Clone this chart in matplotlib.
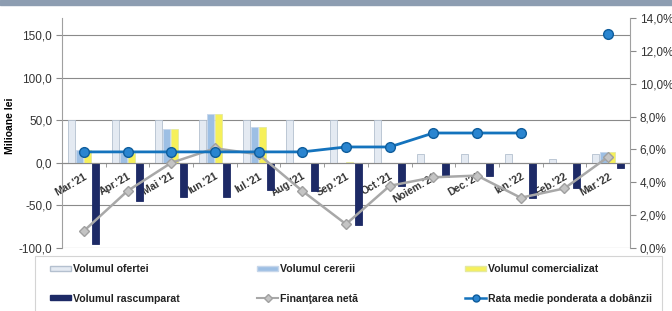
import numpy as np
import matplotlib
matplotlib.use("Agg")
import matplotlib.pyplot as plt
from matplotlib.patches import Rectangle
from matplotlib.lines import Line2D
from matplotlib.ticker import FuncFormatter

plt.rcParams['font.family'] = ['Liberation Sans', 'DejaVu Sans']

# data
months = ["Mar.'21", "Apr.'21", "Mai '21", "Iun.'21", "Iul.'21", "Aug.'21", "Sep.'21",
          "Oct.'21", "Noiem.'21", "Dec.'21", "Ian.'22", "Feb.'22", "Mar.'22"]
oferta = [50, 50, 50, 50, 50, 50, 50, 50, 10, 10, 10, 5, 10]
cerere = [15, 12, 40, 57, 42, 0, 0, 0, 0, 0, 0, 0, 13]
comercializat = [15, 12, 40, 57, 42, 0, 1, 0, 0, 0, 0, 0, 13]
rascumparat = [-95, -45, -40, -40, -32, -33, -73, -27, -17, -15, -41, -30, -6]
finantare = [-80, -33, 0, 17, 10, -33, -72, -27, -17, -15, -41, -30, 7]
rata = [5.85, 5.85, 5.85, 5.85, 5.85, 5.85, 6.15, 6.15, 7.0, 7.0, 7.0, np.nan, 13.0]

W, H = 672, 311
fig = plt.figure(figsize=(W / 100, H / 100), dpi=100)
fig.patches.append(Rectangle((0, 1 - 5 / H), 1, 5 / H, transform=fig.transFigure,
                             color='#8d9db1', zorder=0))

ax = fig.add_axes([62 / W, 1 - 248 / H, 568 / W, 230 / H])
x = np.arange(len(months))
w = 0.16
ax.bar(x - 0.285, oferta, w, color='#e4eaf2', edgecolor='#b4c0cf', linewidth=0.6, zorder=2)
ax.bar(x - 0.10, cerere, w, color='#9dbfe4', edgecolor='#c6d6ea', linewidth=0.6, zorder=2)
ax.bar(x + 0.08, comercializat, w, color='#f6f05a', edgecolor='#e4e9a0', linewidth=0.6, zorder=2)
ax.bar(x + 0.275, rascumparat, w, color='#1d2a66', edgecolor='#1d2a66', linewidth=0.6, zorder=2)
ax.plot(x, finantare, color='#a8a8a8', lw=1.8, marker='D', ms=5,
        mfc='#c4c4c4', mec='#a0a0a0', zorder=3)

ax.set_xlim(-0.5, len(months) - 0.5)
ax.set_ylim(-100, 170)
ax.set_yticks([-100, -50, 0, 50, 100, 150])
ax.yaxis.set_major_formatter(FuncFormatter(lambda v, p: f"{v:.1f}".replace('.', ',')))
ax.grid(axis='y', color='#8a8a8a', lw=0.8, zorder=0)
ax.set_axisbelow(True)
ax.tick_params(axis='y', length=4, color='#8a8a8a', labelsize=8.5, labelcolor='#333333', pad=3)
ax.set_ylabel('Milioane lei', fontsize=7.5, fontweight='bold')
ax.yaxis.set_label_coords(-0.083, 0.53)

for s in ['top', 'right']:
    ax.spines[s].set_visible(False)
ax.spines['left'].set_color('#a0a0a0')
ax.spines['bottom'].set_position(('data', 0))
ax.spines['bottom'].set_color('#8a8a8a')
ax.set_xticks(x)
ax.set_xticklabels(months, rotation=30, ha='right', rotation_mode='anchor',
                   fontsize=7.5, fontweight='bold', color='#333333')
ax.set_xticks(np.arange(len(months) + 1) - 0.5, minor=True)
ax.tick_params(axis='x', which='major', length=0, pad=6)
ax.tick_params(axis='x', which='minor', length=3, color='#8a8a8a')

ax2 = ax.twinx()
ax2.plot(x, rata, color='#1473bd', lw=2, marker='o', ms=7,
         mfc='#2a85d0', mec='#0f5d9c', zorder=4)
ax2.set_ylim(0, 14)
ax2.set_yticks(np.arange(0, 15, 2))
ax2.yaxis.set_major_formatter(FuncFormatter(lambda v, p: f"{v:.1f}%".replace('.', ',')))
ax2.tick_params(axis='y', length=4, color='#8a8a8a', labelsize=8.5, labelcolor='#333333', pad=3)
for s in ['top', 'left', 'bottom']:
    ax2.spines[s].set_visible(False)
ax2.spines['right'].set_color('#a0a0a0')

# legend: frame + three columns
fig.patches.append(Rectangle((35 / W, -0.05), 627 / W, 1 - 256 / H + 0.05,
                             transform=fig.transFigure, fill=False,
                             edgecolor='#d4d4d4', lw=0.8))
handles = [
    Rectangle((0, 0), 1, 1, facecolor='#e4eaf2', edgecolor='#b4c0cf'),
    Rectangle((0, 0), 1, 1, facecolor='#1d2a66', edgecolor='#1d2a66'),
    Rectangle((0, 0), 1, 1, facecolor='#9dbfe4', edgecolor='#c6d6ea'),
    Line2D([], [], color='#a8a8a8', lw=1.5, marker='D', ms=4, mfc='#c4c4c4', mec='#a0a0a0'),
    Rectangle((0, 0), 1, 1, facecolor='#f6f05a', edgecolor='#e4e9a0'),
    Line2D([], [], color='#1473bd', lw=1.8, marker='o', ms=5, mfc='#2a85d0', mec='#0f5d9c'),
]
labels = ['Volumul ofertei', 'Volumul rascumparat', 'Volumul cererii',
          'Finanţarea netă', 'Volumul comercializat', 'Rata medie ponderata a dobânzii']
col_x = [50, 257, 465]
for i, cx in enumerate(col_x):
    leg = fig.legend(handles[2 * i:2 * i + 2], labels[2 * i:2 * i + 2],
                     loc='upper left', bbox_to_anchor=(cx / W, 1 - 264 / H),
                     frameon=False, fontsize=7.6, handlelength=2.0, handleheight=0.35,
                     handletextpad=0.15, labelspacing=1.85, borderpad=0, borderaxespad=0)
    for t in leg.get_texts():
        t.set_fontweight('bold')
        t.set_color('#222222')

fig.savefig('out.png', dpi=100)
